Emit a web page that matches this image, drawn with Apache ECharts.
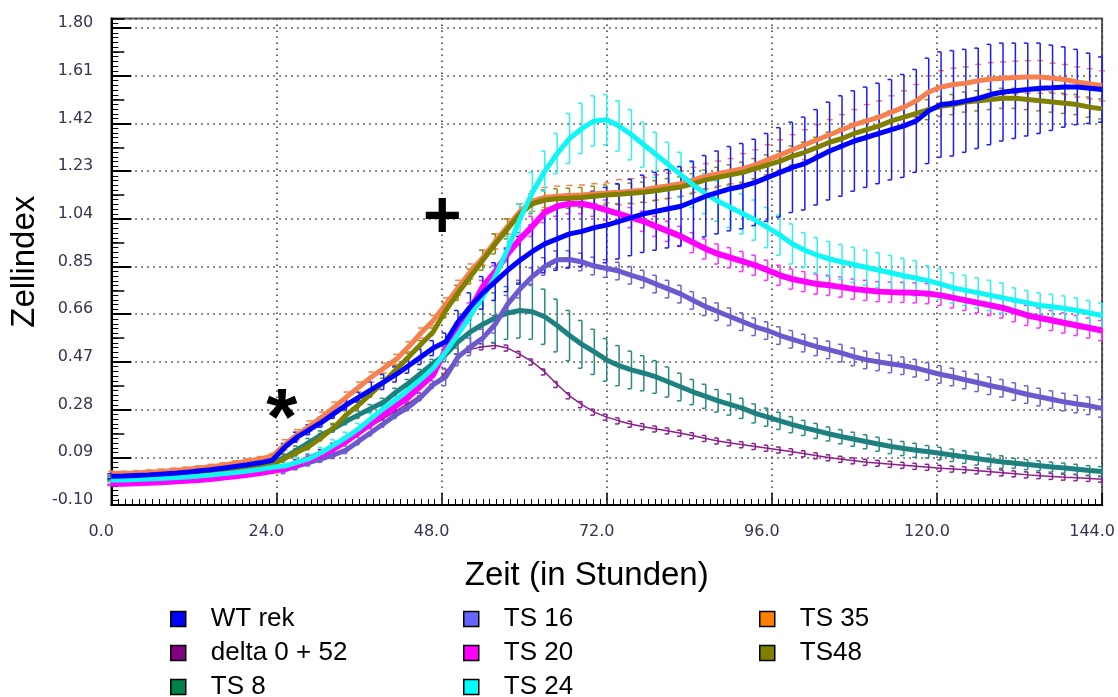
<!DOCTYPE html>
<html>
<head>
<meta charset="utf-8">
<title>Zellindex</title>
<script src="https://cdn.jsdelivr.net/npm/echarts@6.0.0/dist/echarts.min.js"></script>
<style>
  html, body { margin: 0; padding: 0; background: #fff; }
  #main { width: 1118px; height: 697px; }
</style>
</head>
<body>
<div id="main"></div>
<script>
// Zeitpunkte (Stunden), alle 1.8 h gemessen
var hours = [0, 1.8, 3.6, 5.4, 7.2, 9, 10.8, 12.6, 14.4, 16.2,
  18, 19.8, 21.6, 23.4, 25.2, 27, 28.8, 30.6, 32.4, 34.2,
  36, 37.8, 39.6, 41.4, 43.2, 45, 46.8, 48.6, 50.4, 52.2,
  54, 55.8, 57.6, 59.4, 61.2, 63, 64.8, 66.6, 68.4, 70.2,
  72, 73.8, 75.6, 77.4, 79.2, 81, 82.8, 84.6, 86.4, 88.2,
  90, 91.8, 93.6, 95.4, 97.2, 99, 100.8, 102.6, 104.4, 106.2,
  108, 109.8, 111.6, 113.4, 115.2, 117, 118.8, 120.6, 122.4, 124.2,
  126, 127.8, 129.6, 131.4, 133.2, 135, 136.8, 138.6, 140.4, 142.2,
  144];

var yTicks = ['-0.10', '0.09', '0.28', '0.47', '0.66', '0.85', '1.04', '1.23', '1.42', '1.61', '1.80'];
var xTicks = ['0.0', '24.0', '48.0', '72.0', '96.0', '120.0', '144.0'];

// Mittelwerte
var wtRek = [0.015, 0.016, 0.018, 0.02, 0.023, 0.026, 0.03, 0.035, 0.04, 0.046,
  0.053, 0.06, 0.068, 0.078, 0.13, 0.17, 0.20, 0.23, 0.265, 0.30,
  0.33, 0.36, 0.39, 0.42, 0.455, 0.49, 0.525, 0.55, 0.63, 0.69,
  0.745, 0.79, 0.835, 0.875, 0.91, 0.94, 0.96, 0.98, 0.99, 1.005,
  1.015, 1.03, 1.045, 1.06, 1.07, 1.08, 1.09, 1.11, 1.13, 1.145,
  1.16, 1.17, 1.185, 1.205, 1.225, 1.245, 1.26, 1.285, 1.31, 1.33,
  1.35, 1.365, 1.38, 1.395, 1.41, 1.43, 1.47, 1.495, 1.50, 1.51,
  1.52, 1.535, 1.545, 1.55, 1.555, 1.56, 1.562, 1.565, 1.565, 1.56,
  1.555];
var delta052 = [0.0, 0.0, 0.002, 0.004, 0.006, 0.009, 0.012, 0.015, 0.019, 0.024,
  0.029, 0.035, 0.042, 0.05, 0.055, 0.075, 0.095, 0.115, 0.14, 0.165,
  0.19, 0.215, 0.245, 0.275, 0.305, 0.34, 0.375, 0.43, 0.49, 0.52,
  0.53, 0.535, 0.525, 0.50, 0.47, 0.43, 0.38, 0.335, 0.30, 0.27,
  0.25, 0.235, 0.222, 0.212, 0.203, 0.195, 0.186, 0.176, 0.165, 0.155,
  0.147, 0.14, 0.133, 0.126, 0.119, 0.112, 0.104, 0.096, 0.088, 0.082,
  0.076, 0.07, 0.066, 0.062, 0.058, 0.054, 0.05, 0.046, 0.043, 0.04,
  0.036, 0.032, 0.028, 0.024, 0.02, 0.017, 0.014, 0.011, 0.009, 0.006,
  0.003];
var ts8 = [0.01, 0.01, 0.012, 0.014, 0.017, 0.02, 0.024, 0.028, 0.033, 0.038,
  0.044, 0.051, 0.059, 0.068, 0.09, 0.12, 0.15, 0.18, 0.205, 0.235,
  0.26, 0.285, 0.31, 0.35, 0.385, 0.425, 0.465, 0.50, 0.55, 0.59,
  0.62, 0.645, 0.665, 0.675, 0.67, 0.65, 0.615, 0.575, 0.54, 0.51,
  0.478, 0.455, 0.438, 0.425, 0.41, 0.39, 0.37, 0.35, 0.333, 0.315,
  0.30, 0.285, 0.265, 0.25, 0.235, 0.22, 0.207, 0.195, 0.183, 0.172,
  0.162, 0.152, 0.142, 0.133, 0.125, 0.118, 0.112, 0.105, 0.098, 0.091,
  0.084, 0.077, 0.071, 0.066, 0.061, 0.056, 0.051, 0.047, 0.042, 0.037,
  0.033];
var ts16 = [-0.01, -0.01, -0.008, -0.006, -0.004, -0.001, 0.002, 0.006, 0.01, 0.015,
  0.02, 0.026, 0.033, 0.04, 0.04, 0.055, 0.07, 0.085, 0.10, 0.12,
  0.155, 0.19, 0.225, 0.26, 0.29, 0.33, 0.38, 0.41, 0.49, 0.53,
  0.565, 0.62, 0.70, 0.76, 0.81, 0.85, 0.877, 0.878, 0.868, 0.852,
  0.842, 0.832, 0.815, 0.80, 0.78, 0.76, 0.74, 0.715, 0.69, 0.67,
  0.65, 0.63, 0.61, 0.595, 0.575, 0.56, 0.545, 0.53, 0.518, 0.505,
  0.49, 0.478, 0.47, 0.462, 0.455, 0.445, 0.432, 0.42, 0.41, 0.398,
  0.387, 0.375, 0.365, 0.352, 0.34, 0.33, 0.32, 0.31, 0.302, 0.295,
  0.285];
var ts20 = [-0.015, -0.015, -0.013, -0.011, -0.009, -0.006, -0.003, 0.0, 0.004, 0.009,
  0.014, 0.02, 0.027, 0.035, 0.045, 0.06, 0.08, 0.10, 0.125, 0.155,
  0.19, 0.225, 0.26, 0.295, 0.33, 0.375, 0.42, 0.52, 0.60, 0.68,
  0.77, 0.83, 0.90, 0.96, 1.01, 1.065, 1.09, 1.10, 1.10, 1.09,
  1.075, 1.06, 1.045, 1.03, 1.01, 0.99, 0.97, 0.945, 0.92, 0.90,
  0.885, 0.87, 0.855, 0.835, 0.815, 0.80, 0.79, 0.78, 0.775, 0.768,
  0.76, 0.755, 0.75, 0.748, 0.747, 0.745, 0.742, 0.735, 0.725, 0.715,
  0.705, 0.695, 0.685, 0.67, 0.655, 0.645, 0.635, 0.625, 0.615, 0.605,
  0.595];
var ts24 = [0.0, 0.0, 0.002, 0.004, 0.006, 0.009, 0.012, 0.015, 0.019, 0.024,
  0.029, 0.035, 0.042, 0.05, 0.055, 0.07, 0.085, 0.11, 0.14, 0.17,
  0.205, 0.245, 0.285, 0.32, 0.36, 0.40, 0.445, 0.51, 0.58, 0.655,
  0.73, 0.81, 0.92, 1.04, 1.145, 1.23, 1.30, 1.36, 1.40, 1.43,
  1.435, 1.41, 1.375, 1.335, 1.295, 1.255, 1.215, 1.175, 1.14, 1.11,
  1.085, 1.06, 1.035, 1.005, 0.975, 0.94, 0.915, 0.895, 0.88, 0.868,
  0.857, 0.846, 0.835, 0.824, 0.813, 0.803, 0.793, 0.78, 0.765, 0.755,
  0.745, 0.735, 0.725, 0.715, 0.705, 0.695, 0.69, 0.683, 0.675, 0.665,
  0.655];
var ts35 = [0.025, 0.025, 0.027, 0.03, 0.033, 0.037, 0.041, 0.046, 0.052, 0.058,
  0.066, 0.074, 0.083, 0.095, 0.14, 0.18, 0.215, 0.25, 0.29, 0.33,
  0.37, 0.41, 0.445, 0.48, 0.53, 0.585, 0.635, 0.70, 0.765, 0.83,
  0.885, 0.95, 1.01, 1.07, 1.11, 1.125, 1.13, 1.133, 1.135, 1.14,
  1.143, 1.146, 1.15, 1.155, 1.165, 1.172, 1.18, 1.195, 1.21, 1.22,
  1.23, 1.24, 1.255, 1.275, 1.295, 1.315, 1.335, 1.355, 1.375, 1.395,
  1.415, 1.43, 1.445, 1.465, 1.485, 1.51, 1.545, 1.565, 1.575, 1.58,
  1.59, 1.597, 1.60, 1.603, 1.605, 1.605, 1.60, 1.595, 1.585, 1.578,
  1.57];
var ts48 = [0.005, 0.005, 0.007, 0.01, 0.012, 0.015, 0.018, 0.022, 0.027, 0.032,
  0.038, 0.045, 0.053, 0.062, 0.085, 0.11, 0.135, 0.17, 0.21, 0.26,
  0.30, 0.345, 0.39, 0.44, 0.49, 0.54, 0.59, 0.675, 0.745, 0.81,
  0.875, 0.94, 1.0, 1.06, 1.10, 1.115, 1.12, 1.122, 1.125, 1.13,
  1.135, 1.138, 1.142, 1.146, 1.152, 1.16, 1.167, 1.18, 1.195, 1.205,
  1.215, 1.225, 1.24, 1.255, 1.27, 1.29, 1.305, 1.325, 1.345, 1.36,
  1.38, 1.395, 1.41, 1.43, 1.445, 1.46, 1.475, 1.488, 1.495, 1.505,
  1.51, 1.515, 1.52, 1.52, 1.515, 1.51, 1.505, 1.50, 1.495, 1.485,
  1.478];

// Standardabweichungen (halbe Fehlerbalken)
var wtRekErr = [0.01, 0.01, 0.01, 0.01, 0.01, 0.01, 0.01, 0.01, 0.01, 0.01,
  0.01, 0.01, 0.01, 0.01, 0.015, 0.02, 0.02, 0.02, 0.02, 0.02,
  0.02, 0.03, 0.03, 0.03, 0.03, 0.03, 0.03, 0.035, 0.045, 0.055,
  0.065, 0.075, 0.085, 0.095, 0.105, 0.115, 0.125, 0.135, 0.14, 0.145,
  0.15, 0.15, 0.152, 0.154, 0.155, 0.156, 0.158, 0.16, 0.162, 0.165,
  0.168, 0.17, 0.172, 0.175, 0.178, 0.18, 0.185, 0.19, 0.195, 0.2,
  0.2, 0.2, 0.2, 0.2, 0.205, 0.205, 0.21, 0.21, 0.21, 0.205,
  0.2, 0.2, 0.195, 0.19, 0.185, 0.18, 0.17, 0.16, 0.15, 0.14,
  0.13];
var delta052Err = [0.006, 0.006, 0.006, 0.006, 0.006, 0.006, 0.006, 0.006, 0.006, 0.006,
  0.006, 0.006, 0.006, 0.006, 0.006, 0.006, 0.006, 0.006, 0.006, 0.006,
  0.006, 0.006, 0.006, 0.006, 0.006, 0.006, 0.006, 0.012, 0.012, 0.012,
  0.012, 0.012, 0.012, 0.012, 0.012, 0.012, 0.012, 0.012, 0.012, 0.012,
  0.012, 0.012, 0.012, 0.012, 0.012, 0.012, 0.012, 0.012, 0.012, 0.012,
  0.012, 0.012, 0.012, 0.012, 0.012, 0.012, 0.012, 0.012, 0.012, 0.012,
  0.012, 0.012, 0.012, 0.012, 0.012, 0.012, 0.012, 0.012, 0.012, 0.012,
  0.012, 0.012, 0.012, 0.012, 0.012, 0.012, 0.012, 0.012, 0.012, 0.012,
  0.012];
var ts8Err = [0.008, 0.008, 0.008, 0.008, 0.008, 0.008, 0.008, 0.008, 0.008, 0.008,
  0.008, 0.008, 0.008, 0.008, 0.015, 0.015, 0.015, 0.015, 0.015, 0.015,
  0.015, 0.015, 0.015, 0.015, 0.015, 0.015, 0.015, 0.03, 0.05, 0.07,
  0.09, 0.1, 0.105, 0.11, 0.11, 0.11, 0.105, 0.1, 0.095, 0.09,
  0.085, 0.08, 0.075, 0.07, 0.065, 0.06, 0.055, 0.05, 0.048, 0.045,
  0.042, 0.04, 0.038, 0.036, 0.034, 0.032, 0.03, 0.03, 0.028, 0.028,
  0.028, 0.028, 0.028, 0.028, 0.028, 0.028, 0.025, 0.025, 0.025, 0.025,
  0.025, 0.025, 0.025, 0.02, 0.02, 0.02, 0.02, 0.02, 0.02, 0.02,
  0.02];
var ts16Err = [0.008, 0.008, 0.008, 0.008, 0.008, 0.008, 0.008, 0.008, 0.008, 0.008,
  0.008, 0.008, 0.008, 0.008, 0.015, 0.015, 0.015, 0.015, 0.015, 0.015,
  0.015, 0.015, 0.015, 0.015, 0.015, 0.015, 0.015, 0.035, 0.035, 0.035,
  0.035, 0.035, 0.035, 0.035, 0.035, 0.035, 0.035, 0.035, 0.035, 0.035,
  0.035, 0.035, 0.035, 0.035, 0.035, 0.035, 0.035, 0.035, 0.035, 0.035,
  0.035, 0.035, 0.035, 0.035, 0.035, 0.035, 0.035, 0.035, 0.035, 0.035,
  0.035, 0.035, 0.035, 0.035, 0.035, 0.035, 0.035, 0.035, 0.035, 0.035,
  0.035, 0.035, 0.035, 0.035, 0.035, 0.035, 0.035, 0.035, 0.035, 0.035,
  0.035];
var ts20Err = [0.008, 0.008, 0.008, 0.008, 0.008, 0.008, 0.008, 0.008, 0.008, 0.008,
  0.008, 0.008, 0.008, 0.008, 0.015, 0.015, 0.015, 0.015, 0.015, 0.015,
  0.015, 0.015, 0.015, 0.015, 0.015, 0.015, 0.015, 0.025, 0.025, 0.025,
  0.025, 0.025, 0.025, 0.025, 0.04, 0.04, 0.04, 0.04, 0.04, 0.04,
  0.04, 0.04, 0.04, 0.04, 0.04, 0.04, 0.04, 0.04, 0.04, 0.04,
  0.04, 0.04, 0.04, 0.04, 0.04, 0.04, 0.04, 0.04, 0.04, 0.04,
  0.04, 0.04, 0.04, 0.04, 0.04, 0.04, 0.04, 0.04, 0.04, 0.04,
  0.04, 0.04, 0.04, 0.04, 0.04, 0.04, 0.04, 0.04, 0.04, 0.04,
  0.04];
var ts24Err = [0.008, 0.008, 0.008, 0.008, 0.008, 0.008, 0.008, 0.008, 0.008, 0.008,
  0.008, 0.008, 0.008, 0.008, 0.02, 0.02, 0.02, 0.02, 0.02, 0.02,
  0.02, 0.02, 0.02, 0.02, 0.02, 0.02, 0.02, 0.03, 0.03, 0.03,
  0.03, 0.04, 0.05, 0.06, 0.08, 0.08, 0.08, 0.1, 0.1, 0.1,
  0.1, 0.1, 0.1, 0.09, 0.09, 0.09, 0.09, 0.09, 0.08, 0.08,
  0.08, 0.08, 0.08, 0.08, 0.08, 0.08, 0.07, 0.07, 0.07, 0.07,
  0.07, 0.07, 0.07, 0.07, 0.07, 0.07, 0.06, 0.06, 0.06, 0.06,
  0.06, 0.06, 0.06, 0.05, 0.05, 0.05, 0.05, 0.05, 0.05, 0.05,
  0.05];
var ts35Err = [0.01, 0.01, 0.01, 0.01, 0.01, 0.01, 0.01, 0.01, 0.01, 0.01,
  0.01, 0.01, 0.01, 0.01, 0.02, 0.02, 0.02, 0.02, 0.02, 0.02,
  0.02, 0.02, 0.02, 0.02, 0.02, 0.02, 0.02, 0.025, 0.03, 0.03,
  0.03, 0.03, 0.03, 0.03, 0.04, 0.04, 0.04, 0.04, 0.04, 0.04,
  0.04, 0.05, 0.05, 0.05, 0.05, 0.05, 0.05, 0.05, 0.05, 0.05,
  0.05, 0.06, 0.06, 0.06, 0.06, 0.06, 0.06, 0.06, 0.06, 0.06,
  0.06, 0.065, 0.065, 0.065, 0.065, 0.065, 0.065, 0.065, 0.065, 0.065,
  0.065, 0.065, 0.065, 0.065, 0.065, 0.065, 0.06, 0.06, 0.06, 0.06,
  0.06];
var ts48Err = [0.008, 0.008, 0.008, 0.008, 0.008, 0.008, 0.008, 0.008, 0.008, 0.008,
  0.008, 0.008, 0.008, 0.008, 0.015, 0.015, 0.015, 0.015, 0.015, 0.015,
  0.015, 0.015, 0.015, 0.015, 0.015, 0.015, 0.015, 0.03, 0.03, 0.03,
  0.04, 0.04, 0.04, 0.04, 0.04, 0.04, 0.04, 0.04, 0.04, 0.04,
  0.04, 0.04, 0.04, 0.04, 0.04, 0.04, 0.04, 0.04, 0.04, 0.04,
  0.04, 0.04, 0.04, 0.04, 0.04, 0.04, 0.04, 0.04, 0.04, 0.04,
  0.04, 0.04, 0.04, 0.04, 0.04, 0.04, 0.04, 0.04, 0.04, 0.04,
  0.04, 0.04, 0.04, 0.04, 0.04, 0.04, 0.04, 0.04, 0.04, 0.04,
  0.04];

var chart = echarts.init(document.getElementById('main'));

function pairs(vals) {
  return hours.map(function (h, i) { return [h, vals[i]]; });
}

function lineSeries(name, vals, color, width) {
  return {
    name: name, type: 'line', data: pairs(vals), showSymbol: false,
    lineStyle: { color: color, width: width }, itemStyle: { color: color },
    silent: true, animation: false
  };
}

// Fehlerbalken als "]" (capsOnly: nur die waagrechten Striche)
function errSeries(vals, errs, color, capsOnly) {
  return {
    type: 'custom', silent: true, animation: false,
    data: hours.map(function (h, i) { return [h, vals[i] - errs[i], vals[i] + errs[i]]; }),
    encode: { x: 0, y: [1, 2] },
    renderItem: function (params, api) {
      var top = api.coord([api.value(0), api.value(2)]);
      var bot = api.coord([api.value(0), api.value(1)]);
      var st = { stroke: color, lineWidth: 1.5 };
      var kids = [];
      if (capsOnly) {
        kids.push({ type: 'line', shape: { x1: top[0] - 3, y1: top[1], x2: top[0] + 3, y2: top[1] }, style: st });
        kids.push({ type: 'line', shape: { x1: bot[0] - 3, y1: bot[1], x2: bot[0] + 3, y2: bot[1] }, style: st });
      } else {
        kids.push({ type: 'line', shape: { x1: top[0], y1: top[1], x2: bot[0], y2: bot[1] }, style: st });
        kids.push({ type: 'line', shape: { x1: top[0] - 4, y1: top[1], x2: top[0], y2: top[1] }, style: st });
        kids.push({ type: 'line', shape: { x1: bot[0] - 4, y1: bot[1], x2: bot[0], y2: bot[1] }, style: st });
      }
      return { type: 'group', children: kids };
    }
  };
}

var dotted = { color: '#333', width: 1.5, type: [1.5, 4.5] };
var labelFont = { fontFamily: 'DejaVu Sans', fontSize: 16, color: '#34344e' };

var yBase = { type: 'value', min: -0.1, max: 1.838, position: 'left' };

var legendText = { fontFamily: 'Liberation Sans', fontSize: 26, color: '#000', padding: [0, 0, 0, 20] };
function legendItem(name, color) {
  return { name: name, icon: 'rect', itemStyle: { color: color, borderColor: '#000', borderWidth: 1.5 } };
}
var legendBase = { orient: 'vertical', padding: 0, itemGap: 8, itemWidth: 15, itemHeight: 15, selectedMode: false, textStyle: legendText, top: 606, height: 110 };

var wt = lineSeries('WT rek', wtRek, '#0000ff', 5);
wt.markPoint = {
  symbol: 'rect', symbolSize: 1, itemStyle: { color: 'rgba(0,0,0,0)' },
  label: { show: true, position: 'inside', formatter: '{b}', color: '#000', fontWeight: 'bold', fontFamily: 'Liberation Sans', fontSize: 66 },
  data: [
    { name: '*', coord: [24.8, 0.232], label: { fontSize: 80 } },
    { name: '+', coord: [48.1, 1.04] }
  ]
};

var option = {
  animation: false,
  backgroundColor: '#fff',
  grid: { left: 109, right: 14, top: 18.5, bottom: 192, show: true, borderColor: '#555', borderWidth: 2 },
  xAxis: {
    type: 'value', min: 0, max: 144, interval: 24,
    name: 'Zeit (in Stunden)', nameLocation: 'middle', nameGap: 54,
    nameTextStyle: { fontFamily: 'Liberation Sans', fontSize: 33, color: '#000', padding: [0, 40, 0, 0] },
    axisLine: { show: true, onZero: false, lineStyle: { color: '#000', width: 2 } },
    axisTick: { show: true, inside: true, length: 12, lineStyle: { color: '#000', width: 1.5 } },
    minorTick: { show: true, splitNumber: 24, length: 6, lineStyle: { color: '#000', width: 1 } },
    axisLabel: Object.assign({ margin: 19, padding: [0, 20, 0, 0], formatter: function (v, i) { return xTicks[i]; } }, labelFont),
    splitLine: { show: true, lineStyle: dotted }
  },
  yAxis: [
    Object.assign({}, yBase, {
      interval: 0.19,
      name: 'Zellindex', nameLocation: 'middle', nameGap: 65,
      nameTextStyle: { fontFamily: 'Liberation Sans', fontSize: 33, color: '#000' },
      axisLine: { show: true, onZero: false, lineStyle: { color: '#000', width: 2 } },
      axisTick: { show: true, inside: true, length: 20, lineStyle: { color: '#000', width: 2 } },
      axisLabel: Object.assign({ margin: 18, verticalAlign: 'bottom', padding: [0, 0, -3, 0], showMaxLabel: false, formatter: function (v, i) { return yTicks[i]; } }, labelFont),
      splitLine: { show: true, lineStyle: dotted }
    }),
    Object.assign({}, yBase, {
      interval: 0.095,
      axisLine: { show: false },
      axisTick: { show: true, inside: true, length: 13, lineStyle: { color: '#000', width: 1.5 } },
      axisLabel: { show: false }, splitLine: { show: false }
    }),
    Object.assign({}, yBase, {
      interval: 0.019,
      axisLine: { show: false },
      axisTick: { show: true, inside: true, length: 7, lineStyle: { color: '#000', width: 1 } },
      axisLabel: { show: false }, splitLine: { show: false }
    })
  ],
  legend: [
    Object.assign({}, legendBase, { left: 170, data: [
      legendItem('WT rek', '#0000ff'), legendItem('delta 0 + 52', '#800080'), legendItem('TS 8', '#00804a')] }),
    Object.assign({}, legendBase, { left: 463, data: [
      legendItem('TS 16', '#6666ff'), legendItem('TS 20', '#ff00ff'), legendItem('TS 24', '#00ffff')] }),
    Object.assign({}, legendBase, { left: 759, data: [
      legendItem('TS 35', '#ff8000'), legendItem('TS48', '#808000')] })
  ],
  series: [
    lineSeries('delta 0 + 52', delta052, '#8b1f8b', 1.5),
    errSeries(delta052, delta052Err, '#8b1f8b', false),
    lineSeries('TS 8', ts8, '#1f8080', 5),
    errSeries(ts8, ts8Err, '#2a8a80', false),
    lineSeries('TS 16', ts16, '#6a5acd', 5),
    errSeries(ts16, ts16Err, '#7060d0', false),
    lineSeries('TS 20', ts20, '#ff00ff', 6),
    errSeries(ts20, ts20Err, '#ff30ff', false),
    lineSeries('TS 35', ts35, '#f7804f', 5),
    errSeries(ts35, ts35Err, '#f7804f', true),
    lineSeries('TS48', ts48, '#7f7f00', 5),
    errSeries(ts48, ts48Err, '#8a8a10', false),
    lineSeries('TS 24', ts24, '#10f5f5', 5),
    errSeries(ts24, ts24Err, '#30f0f0', false),
    wt,
    errSeries(wtRek, wtRekErr, '#1a1aff', false)
  ]
};

chart.setOption(option);
</script>
</body>
</html>
